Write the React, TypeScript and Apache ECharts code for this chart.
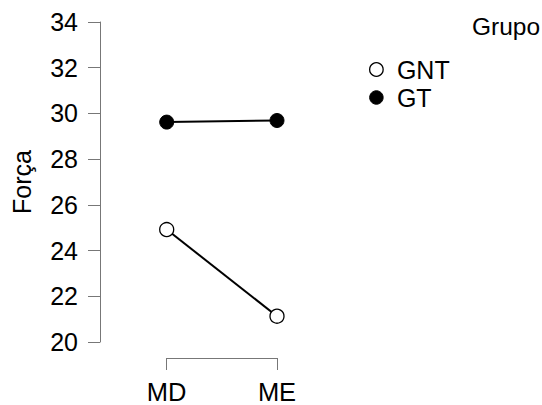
import React, { useEffect, useRef } from "react";
import * as echarts from "echarts";

const categories = ["MD", "ME"];
const groups = ["GNT", "GT"];
const gntValues = [24.92, 21.13];
const gtValues = [29.62, 29.69];
const yTicks = { min: 20, max: 34, interval: 2 };

const FONT = "'Liberation Sans', Arial, Helvetica, sans-serif";

export default function App() {
  const ref = useRef<HTMLDivElement>(null);
  useEffect(() => {
    if (!ref.current) return;
    const chart = echarts.init(ref.current, null, { renderer: "svg" });
    chart.setOption({
      animation: false,
      backgroundColor: "#ffffff",
      textStyle: { fontFamily: FONT },
      title: {
        text: "Grupo",
        left: 467,
        top: 9,
        textStyle: { fontFamily: FONT, fontSize: 24.5, fontWeight: "normal", color: "#000" },
      },
      legend: {
        orient: "vertical",
        left: 364,
        top: 52,
        icon: "circle",
        itemWidth: 31,
        itemHeight: 13.5,
        itemGap: 3,
        textStyle: { fontFamily: FONT, fontSize: 25, color: "#000", lineHeight: 25 },
        data: [
          { name: groups[0], itemStyle: { color: "#fff", borderColor: "#000", borderWidth: 1.3 } },
          { name: groups[1], itemStyle: { color: "#000", borderColor: "#000", borderWidth: 1 } },
        ],
      },
      grid: { left: 166.7, right: 542 - 277, top: 22, bottom: 62.3, containLabel: false },
      xAxis: {
        type: "category",
        data: categories,
        boundaryGap: false,
        offset: 16,
        axisLine: { show: true, lineStyle: { color: "#777", width: 1 } },
        axisTick: { show: true, length: 12, alignWithLabel: true, lineStyle: { color: "#777", width: 1 } },
        axisLabel: { margin: 21, fontSize: 25.5, color: "#000", fontFamily: FONT },
        splitLine: { show: false },
      },
      yAxis: {
        type: "value",
        min: yTicks.min,
        max: yTicks.max,
        interval: yTicks.interval,
        offset: 66.7,
        name: "Força",
        nameLocation: "middle",
        nameGap: 66,
        nameTextStyle: { fontSize: 25, color: "#000", fontFamily: FONT },
        axisLine: { show: true, lineStyle: { color: "#777", width: 1 } },
        axisTick: { show: true, length: 12, lineStyle: { color: "#777", width: 1 } },
        axisLabel: { margin: 22, fontSize: 25, color: "#000", fontFamily: FONT },
        splitLine: { show: false },
      },
      series: [
        {
          name: groups[0],
          type: "line",
          data: gntValues,
          clip: false,
          symbol: "circle",
          symbolSize: 14,
          lineStyle: { color: "#000", width: 2 },
          itemStyle: { color: "#fff", borderColor: "#000", borderWidth: 1.3 },
          z: 3,
        },
        {
          name: groups[1],
          type: "line",
          data: gtValues,
          clip: false,
          symbol: "circle",
          symbolSize: 14,
          lineStyle: { color: "#000", width: 2 },
          itemStyle: { color: "#000", borderColor: "#000", borderWidth: 1 },
          z: 3,
        },
      ],
    });
    return () => chart.dispose();
  }, []);
  return (
    <div
      ref={ref}
      style={{ position: "absolute", left: 0, top: 0, width: 542, height: 405 }}
    />
  );
}
